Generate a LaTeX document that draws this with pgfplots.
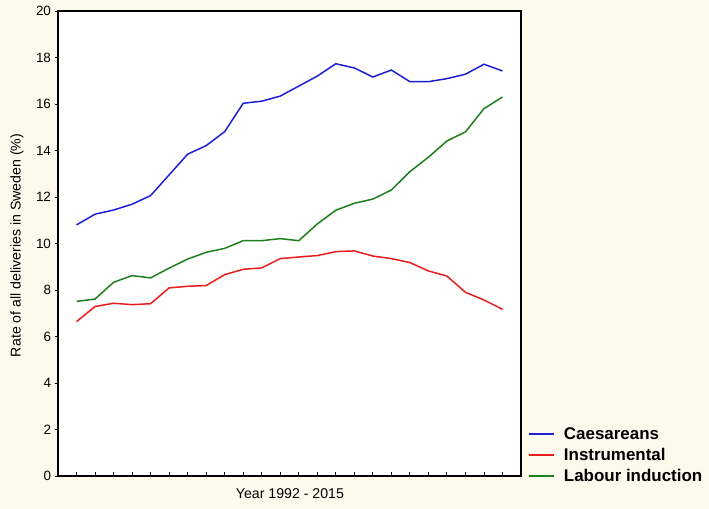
\documentclass[border=0pt]{standalone}
\usepackage{pgfplots}
\pgfplotsset{compat=1.18}
\usepackage{fontspec}
\setmainfont{Liberation Sans}

\definecolor{bgcream}{RGB}{253,249,237}
\definecolor{cblue}{RGB}{30,30,215}
\definecolor{cred}{RGB}{232,28,28}
\definecolor{cgreen}{RGB}{28,128,28}

\pgfplotsset{
  legend image code/.code={\draw[#1, line width=1.8pt] (0bp,0bp) -- (25bp,0bp);},
}

\begin{document}
\begin{tikzpicture}[x=1bp,y=1bp]
  \fill[bgcream] (0,0) rectangle (709,509);
  \begin{axis}[
    at={(58bp,33bp)}, anchor=south west,
    scale only axis,
    width=463bp, height=465bp,
    xmin=-1, xmax=24,
    ymin=0, ymax=20,
    xtick={0,...,23},
    xticklabels={},
    ytick={0,2,...,20},
    xtick pos=bottom, ytick pos=left,
    xtick align=inside, ytick align=outside,
    major tick length=3.5bp,
    tick style={black, line width=0.9pt},
    axis line style={line width=1.2pt},
    axis background/.style={fill=white},
    /pgf/number format/assume math mode=true,
    tick label style={font=\fontsize{13.5}{15}\selectfont},
    ylabel={Rate of all deliveries in Sweden (\%)},
    xlabel={Year 1992 - 2015},
    every axis y label/.style={at={(axis description cs:-0.0886,0.496)}, rotate=90,
      anchor=center, font=\fontsize{14.2}{16}\selectfont},
    every axis x label/.style={at={(axis description cs:0.501,-0.037)}, anchor=center,
      font=\fontsize{14.2}{16}\selectfont},
    legend style={at={(1.015,-0.019)}, anchor=south west, draw=none, fill=none,
      inner sep=0pt, nodes={inner sep=2bp},
      font=\bfseries\fontsize{17}{19}\selectfont, row sep=3.3bp, column sep=7bp,
      cells={anchor=west}},
  ]
    \addplot[cblue, line width=1.5pt] coordinates {
      (0,10.80)(1,11.26)(2,11.44)(3,11.69)(4,12.06)(5,12.95)(6,13.84)(7,14.21)
      (8,14.81)(9,16.03)(10,16.12)(11,16.34)(12,16.77)(13,17.20)(14,17.73)(15,17.55)
      (16,17.16)(17,17.46)(18,16.96)(19,16.96)(20,17.09)(21,17.28)(22,17.71)(23,17.42)
    };
    \addlegendentry{Caesareans}
    \addplot[cred, line width=1.5pt] coordinates {
      (0,6.64)(1,7.29)(2,7.43)(3,7.37)(4,7.41)(5,8.09)(6,8.16)(7,8.19)
      (8,8.66)(9,8.89)(10,8.95)(11,9.35)(12,9.42)(13,9.48)(14,9.65)(15,9.68)
      (16,9.46)(17,9.35)(18,9.18)(19,8.82)(20,8.60)(21,7.90)(22,7.57)(23,7.17)
    };
    \addlegendentry{Instrumental}
    \addplot[cgreen, line width=1.5pt] coordinates {
      (0,7.51)(1,7.61)(2,8.33)(3,8.62)(4,8.52)(5,8.94)(6,9.33)(7,9.62)
      (8,9.79)(9,10.12)(10,10.12)(11,10.21)(12,10.12)(13,10.84)(14,11.43)(15,11.73)
      (16,11.91)(17,12.30)(18,13.09)(19,13.71)(20,14.41)(21,14.80)(22,15.80)(23,16.30)
    };
    \addlegendentry{Labour induction}
  \end{axis}
\end{tikzpicture}
\end{document}
